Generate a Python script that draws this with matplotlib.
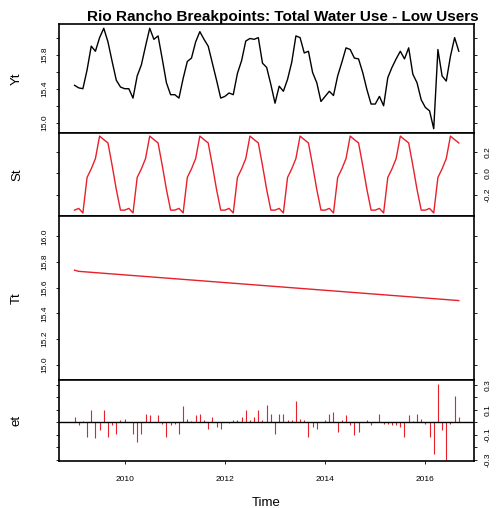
import numpy as np
import matplotlib
matplotlib.use("Agg")
import matplotlib.pyplot as plt

plt.rcParams['font.family'] = ['Liberation Sans', 'DejaVu Sans']

# ---------------- data (monthly, Jan 2009 - Sep 2016) ----------------
start_year = 2009

Yt = [15.44, 15.41, 15.40, 15.62, 15.90, 15.84, 16.00, 16.11, 15.95, 15.72, 15.50, 15.42,
      15.40, 15.40, 15.29, 15.55, 15.68, 15.90, 16.11, 15.98, 16.02, 15.75, 15.47, 15.33,
      15.33, 15.29, 15.52, 15.72, 15.76, 15.95, 16.07, 15.98, 15.90, 15.70, 15.50, 15.29,
      15.31, 15.35, 15.33, 15.58, 15.73, 15.96, 15.99, 15.98, 16.00, 15.70, 15.65, 15.45,
      15.23, 15.43, 15.37, 15.51, 15.71, 16.02, 16.00, 15.82, 15.84, 15.59, 15.47, 15.25,
      15.31, 15.37, 15.32, 15.55, 15.71, 15.88, 15.86, 15.76, 15.75, 15.59, 15.39, 15.22,
      15.22, 15.31, 15.20, 15.53, 15.65, 15.75, 15.84, 15.75, 15.88, 15.57, 15.47, 15.27,
      15.18, 15.14, 14.93, 15.86, 15.55, 15.49, 15.78, 16.00, 15.84]

# seasonal profile Jan..Dec (same every year)
St_month = [-0.341, -0.325, -0.367, -0.037, 0.043, 0.139, 0.348, 0.315, 0.284, 0.075, -0.149, -0.341]

# trend: read at a few points (straight line with a tiny hook at the start)
Tt_time = [2009.0, 2009 + 1 / 12, 2009 + 92 / 12]
Tt_vals = [15.737, 15.728, 15.500]

et = [0.045, -0.02, 0.01, -0.115, 0.10, -0.128, -0.06, 0.10, -0.115, -0.02, -0.09, 0.02,
      0.025, 0.005, -0.09, -0.155, -0.09, 0.07, 0.06, 0.005, 0.06, -0.01, -0.115, -0.02,
      -0.01, -0.09, 0.13, 0.03, 0.01, 0.06, 0.07, 0.02, -0.05, 0.045, -0.035, -0.05,
      0.005, -0.005, 0.02, 0.02, 0.045, 0.10, 0.02, 0.045, 0.10, 0.02, 0.14, 0.07,
      -0.09, 0.07, 0.07, 0.02, 0.02, 0.17, 0.03, 0.02, -0.115, -0.035, -0.05, 0.005,
      0.02, 0.07, 0.085, -0.075, 0.02, 0.06, -0.02, -0.10, -0.075, 0.005, 0.02, -0.02,
      0.005, 0.07, -0.01, -0.01, -0.02, -0.02, -0.035, -0.115, 0.06, 0.01, 0.064, 0.03,
      -0.01, -0.115, -0.25, 0.31, -0.06, -0.30, -0.01, 0.21, 0.045]

year_ticks = [2010, 2012, 2014, 2016]
title = "Rio Rancho Breakpoints: Total Water Use - Low Users"

# ---------------- derived ----------------
n = len(Yt)
t = start_year + np.arange(n) / 12.0
St = np.array([St_month[i % 12] for i in range(n)])

W, H = 500, 508
fig = plt.figure(figsize=(W / 100, H / 100), dpi=100)


def px_axes(top, bottom, left=59, right=474):
    return fig.add_axes([left / W, 1 - bottom / H, (right - left) / W, (bottom - top) / H])


ax1 = px_axes(24, 133)
ax2 = px_axes(133, 216)
ax3 = px_axes(216, 380)
ax4 = px_axes(380, 461)

red = '#e8202a'
xlim = (2008.69, 2016.97)
ylim_y = (14.88, 16.16)

ax1.plot(t, Yt, color='black', lw=1.0)
ax1.set_ylim(*ylim_y)
ax1.set_yticks([15.0, 15.2, 15.4, 15.6, 15.8, 16.0])
ax1.set_yticklabels(['15.0', '', '15.4', '', '15.8', ''])

ax2.plot(t, St, color=red, lw=1.0)
rng = St.max() - St.min()
ax2.set_ylim(St.min() - 0.04 * rng, St.max() + 0.04 * rng)
ax2.set_yticks([-0.2, 0.0, 0.2])
ax2.set_yticklabels(['-0.2', '0.0', '0.2'])

ax3.plot(Tt_time, Tt_vals, color=red, lw=1.0)
ax3.set_ylim(*ylim_y)
ax3.set_yticks([15.0, 15.2, 15.4, 15.6, 15.8, 16.0])
ax3.set_yticklabels(['15.0', '15.2', '15.4', '15.6', '15.8', '16.0'])

ax4.vlines(t, 0, et, color=red, lw=0.8)
ax4.axhline(0, color='black', lw=1.0)
ax4.set_ylim(-0.31, 0.34)
ax4.set_yticks([-0.3, -0.2, -0.1, 0.0, 0.1, 0.2, 0.3])
ax4.set_yticklabels(['-0.3', '', '-0.1', '', '0.1', '', '0.3'])

labels = ['Yt', 'St', 'Tt', 'et']
for i, ax in enumerate([ax1, ax2, ax3, ax4]):
    ax.set_xlim(*xlim)
    ax.set_xticks(year_ticks)
    for s in ax.spines.values():
        s.set_linewidth(1.2)
    right_side = i in (1, 3)
    ax.tick_params(axis='y', which='both', direction='out', length=2.5, width=0.6,
                   labelsize=6, left=True, right=True,
                   labelleft=not right_side, labelright=right_side, pad=5)
    for lab in ax.get_yticklabels():
        lab.set_rotation(90)
        lab.set_va('center')
    ax.tick_params(axis='x', direction='out', length=2.5, width=0.6, labelsize=6, pad=8,
                   labelbottom=(i == 3))
    ax.set_ylabel(labels[i], fontsize=9.5)
    ax.yaxis.set_label_position('left')
    ax.yaxis.set_label_coords((23 - 59) / 415, 0.5)

ax4.set_xticklabels([str(y) for y in year_ticks])
ax4.set_xlabel('Time', fontsize=9.5)
ax4.xaxis.set_label_coords(0.5, -(497 - 461) / 81)

fig.text(283 / W, 1 - 17 / H, title, fontsize=11, fontweight='bold', ha='center', va='center')

fig.savefig('out.png', dpi=100, facecolor='white')
